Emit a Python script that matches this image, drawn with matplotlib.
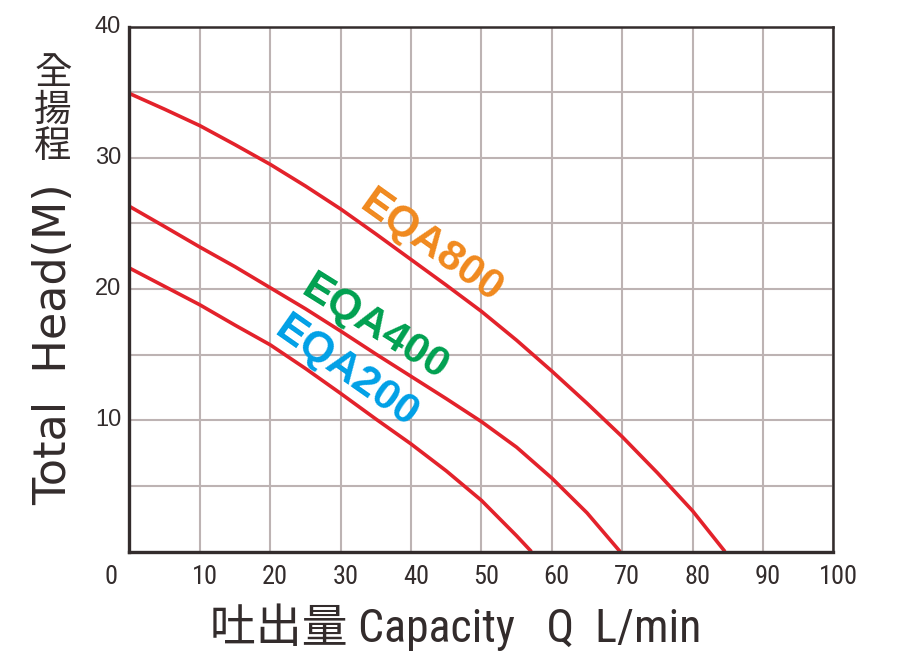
import matplotlib
matplotlib.use("Agg")
import matplotlib.pyplot as plt
import matplotlib.transforms as mtransforms
from matplotlib import font_manager

# pump curves (Q in L/min, head in m)
q_800 = [0, 5, 10, 15, 20, 25, 30, 35, 40, 45, 50, 55, 60, 65, 70, 75, 80, 84.6]
h_800 = [34.9, 33.7, 32.45, 31.0, 29.5, 27.85, 26.1, 24.2, 22.25, 20.3, 18.3, 16.1,
         13.75, 11.3, 8.75, 6.0, 3.1, 0]
q_400 = [0, 5, 10, 15, 20, 25, 30, 35, 40, 45, 50, 55, 60, 65, 69.7]
h_400 = [26.3, 24.76, 23.2, 21.7, 20.1, 18.5, 16.8, 15.05, 13.35, 11.65, 9.9, 7.95,
         5.6, 2.95, 0]
q_200 = [0, 5, 10, 15, 20, 25, 30, 35, 40, 45, 50, 55, 57.1]
h_200 = [21.6, 20.2, 18.8, 17.25, 15.75, 13.95, 12.05, 10.1, 8.2, 6.15, 3.9, 1.2, 0]

x_ticks = [10, 20, 30, 40, 50, 60, 70, 80, 90, 100]
y_ticks = [10, 20, 30, 40]

# pick a condensed face for the narrow labels if one is installed
fonts = font_manager.fontManager.ttflist
names = set(f.name for f in fonts)
narrow, stretch = "Liberation Sans", "normal"
for cand in ["Liberation Sans Narrow", "Roboto Condensed", "Open Sans Condensed"]:
    if cand in names:
        narrow = cand
        break
else:
    if any(f.name == "DejaVu Sans" and "Condensed" in f.fname for f in fonts):
        narrow, stretch = "DejaVu Sans", "condensed"
cjk = "Noto Sans CJK TC"

RED = "#E3222B"
DARK = "#332C2C"
GRID = "#BDB3B3"
W, H = 899, 659

fig = plt.figure(figsize=(8.99, 6.59), dpi=100)
ax = fig.add_axes([0.144, 0.163, 0.783, 0.7967])

ax.set_xlim(0, 100)
ax.set_ylim(0, 40)
ax.set_xticks(range(0, 101, 10))
ax.set_yticks(range(0, 41, 5))
ax.grid(True, color=GRID, linewidth=1.5)
ax.set_axisbelow(True)
ax.tick_params(length=0)
ax.set_xticklabels([])
ax.set_yticklabels([])
for s in ax.spines.values():
    s.set_color(DARK)
    s.set_linewidth(1.8)
ax.spines["left"].set_linewidth(2.4)
ax.spines["bottom"].set_linewidth(2.4)

ax.plot(q_800, h_800, color=RED, lw=2.6, solid_capstyle="butt")
ax.plot(q_400, h_400, color=RED, lw=2.6, solid_capstyle="butt")
ax.plot(q_200, h_200, color=RED, lw=2.6, solid_capstyle="butt")

# tick labels
xoff = mtransforms.ScaledTranslation(0.05, 0, fig.dpi_scale_trans)
for t in x_ticks:
    ax.text(t, -0.048, str(t), transform=ax.get_xaxis_transform() + xoff,
            ha="center", va="center", fontsize=19, family=narrow, fontstretch=stretch,
            color=DARK)
ax.text(-0.026, -0.048, "0", transform=ax.transAxes, ha="center", va="center",
        fontsize=19, family=narrow, fontstretch=stretch, color=DARK)
for t in y_ticks:
    ax.text(-0.012, t, str(t), transform=ax.get_yaxis_transform(),
            ha="right", va="center", fontsize=17, family="Liberation Sans", color=DARK)

# curve names
def label(x, y, s, color, rot):
    fig.text(x / W, 1 - y / H, s, fontsize=31, fontweight="bold", color=color,
             rotation=rot, rotation_mode="anchor", ha="center", va="center",
             family="Liberation Sans")

label(431, 247, "EQA800", "#F0891E", -35.5)
label(375, 328, "EQA400", "#00A050", -32)
label(346, 372, "EQA200", "#00A0E6", -35)

# axis titles
fig.text(456 / W, 1 - 627 / H, "吐出量 Capacity   Q  L/min", ha="center", va="center",
         fontsize=33, color=DARK, family=[narrow, cjk], fontstretch=stretch)
fig.text(54 / W, 1 - 344 / H, "Total  Head(M)", rotation=90, ha="center", va="center",
         fontsize=32, color=DARK, family="DejaVu Sans")
fig.text(53 / W, 1 - 110 / H, "全\n揚\n程", ha="center", va="center",
         fontsize=27, color=DARK, family=cjk, linespacing=0.9)

fig.savefig("out.png", dpi=100)
